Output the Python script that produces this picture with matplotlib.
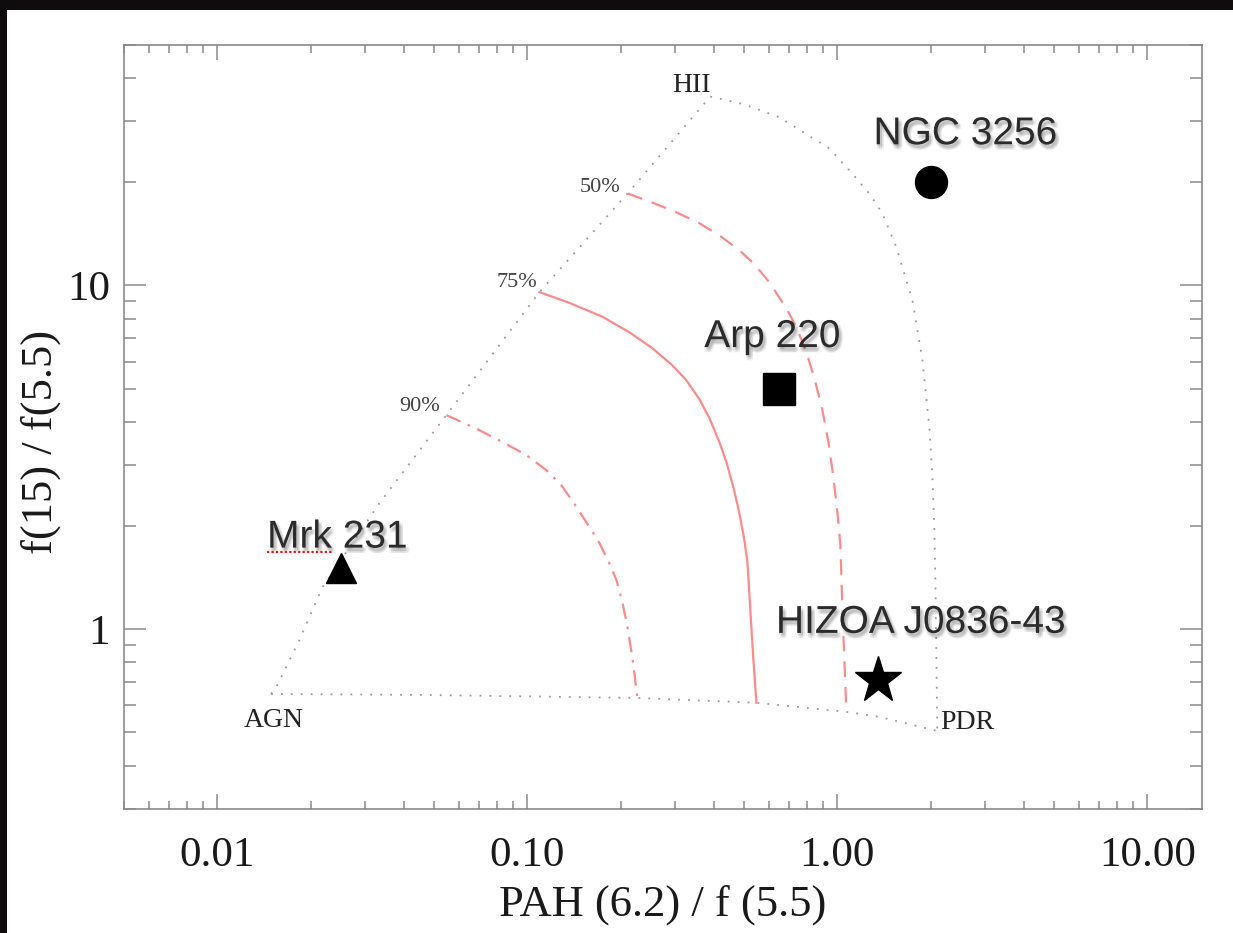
import matplotlib
matplotlib.use("Agg")
import matplotlib.pyplot as plt
import matplotlib.patheffects as pe
from matplotlib.patches import Rectangle
from matplotlib.lines import Line2D
from matplotlib.ticker import LogLocator, FixedLocator, FixedFormatter, NullFormatter

# galaxies
names = ["NGC 3256", "Arp 220", "Mrk 231", "HIZOA J0836-43"]
pah_ratio = [2.0, 0.65, 0.025, 1.35]
f15_ratio = [20.0, 5.0, 1.5, 0.71]

# corners of the diagnostic triangle
corner_names = ["AGN", "HII", "PDR"]
corner_x = [0.0149, 0.389, 2.10]
corner_y = [0.647, 35.4, 0.505]

# triangle edges
agn_hii_x = [0.0149, 0.0155, 0.0184, 0.0218, 0.0333, 0.0548, 0.1094, 0.2105, 0.389]
agn_hii_y = [0.647, 0.678, 0.929, 1.32, 2.32, 4.19, 9.55, 18.5, 35.4]
hii_pdr_x = [0.389, 0.501, 0.650, 0.942, 1.093, 1.267, 1.396, 1.549, 1.746, 1.880,
             1.98, 2.025, 2.055, 2.07, 2.085, 2.10]
hii_pdr_y = [35.4, 33.6, 30.8, 25.0, 21.6, 18.5, 16.2, 12.9, 9.05, 6.06,
             3.86, 2.77, 1.94, 1.39, 0.869, 0.505]
agn_pdr_x = [0.0149, 0.0449, 0.2264, 0.548, 1.069, 1.365, 2.10]
agn_pdr_y = [0.647, 0.643, 0.630, 0.610, 0.574, 0.555, 0.505]

# AGN fraction contours
c50_x = [0.2105, 0.2569, 0.3024, 0.3588, 0.4162, 0.4830, 0.5400, 0.6035, 0.6846, 0.7376,
         0.7943, 0.8428, 0.8946, 0.9354, 0.9708, 1.000, 1.0225, 1.038, 1.0534, 1.069]
c50_y = [18.5, 17.31, 16.30, 15.15, 13.97, 12.64, 11.51, 10.20, 8.57, 7.55,
         6.39, 5.37, 4.33, 3.50, 2.77, 2.19, 1.755, 1.136, 0.813, 0.574]
c75_x = [0.1094, 0.1366, 0.1745, 0.2133, 0.2530, 0.2935, 0.3258, 0.3588, 0.3865, 0.4162,
         0.4384, 0.4618, 0.4830, 0.5012, 0.5125, 0.5200, 0.528, 0.536, 0.548]
c75_y = [9.55, 8.89, 8.10, 7.30, 6.56, 5.85, 5.29, 4.66, 4.11, 3.50,
         3.06, 2.59, 2.17, 1.815, 1.566, 1.273, 1.01, 0.813, 0.610]
c90_x = [0.0548, 0.0683, 0.0830, 0.0990, 0.115, 0.1287, 0.1428, 0.1585, 0.1707, 0.184,
         0.1937, 0.2028, 0.2105, 0.2187, 0.2264]
c90_y = [4.19, 3.83, 3.50, 3.21, 2.90, 2.62, 2.29, 1.98, 1.78, 1.55,
         1.39, 1.19, 1.01, 0.813, 0.630]
pct_labels = ["50%", "75%", "90%"]

x_ticks = [0.01, 0.1, 1.0, 10.0]
x_ticklabels = ["0.01", "0.10", "1.00", "10.00"]
y_ticks = [1, 10]
y_ticklabels = ["1", "10"]

serif = "Liberation Serif"
sans = "Liberation Sans"
pink = "#ff8a8a"
dotgrey = "#9a9a9a"

fig = plt.figure(figsize=(12.33, 9.33), dpi=100)
fig.patch.set_facecolor("#0e0c0c")
fig.add_artist(Rectangle((7 / 1233, 0), 1 - 7 / 1233, 1 - 10 / 933,
                         transform=fig.transFigure, facecolor="white",
                         edgecolor="none", zorder=0))

ax = fig.add_axes([124 / 1233, 1 - 808.7 / 933, 1078 / 1233, 763.7 / 933])
ax.set_facecolor("white")
ax.set_xscale("log")
ax.set_yscale("log")
ax.set_xlim(0.005, 15)
ax.set_ylim(0.3, 50)

# triangle
dots = (0, (1, 4.5))
for xs, ys in [(agn_hii_x, agn_hii_y), (hii_pdr_x, hii_pdr_y), (agn_pdr_x, agn_pdr_y)]:
    ax.plot(xs, ys, color=dotgrey, lw=1.3, linestyle=dots, zorder=2)

ax.plot(c50_x, c50_y, color=pink, lw=1.6, linestyle=(0, (7, 4.5)), zorder=3)
ax.plot(c75_x, c75_y, color=pink, lw=1.6, linestyle="-", zorder=3)
ax.plot(c90_x, c90_y, color=pink, lw=1.6, linestyle=(0, (7, 3.5, 1.2, 3.5)), zorder=3)

# small labels on the triangle
corner_pos = {"AGN": (0.0152, 0.543), "HII": (0.338, 38.1), "PDR": (2.63, 0.533)}
for name in corner_names:
    px, py = corner_pos[name]
    ax.text(px, py, name, family=serif, fontsize=20, color="#222222",
            ha="center", va="center", zorder=4)

pct_pos = [(0.172, 19.3), (0.0922, 10.2), (0.0449, 4.45)]
for lab, (px, py) in zip(pct_labels, pct_pos):
    ax.text(px, py, lab, family=serif, fontsize=16, color="#444444",
            ha="center", va="center", zorder=4)

# galaxies
markers = ["o", "s", "^", "*"]
msizes = [23, 23, 22, 35]
for x, y, m, s in zip(pah_ratio, f15_ratio, markers, msizes):
    ax.plot(x, y, marker=m, markersize=s, color="black", linestyle="none", zorder=5)

shadow = [pe.SimplePatchShadow(offset=(1.5 + dx, -2.5 + dy), shadow_rgbFace="black", alpha=0.045)
          for dx in (-1.2, 0, 1.2) for dy in (-1.2, 0, 1.2)] + [pe.Normal()]
offsets = [(25, 27, "center"), (-5, 30, "center"), (-53, 15, "left"), (31, 34, "center")]
label_kw = dict(family=sans, fontsize=28, color="#2b2b2b", va="baseline",
                textcoords="offset points", zorder=6)
for name, x, y, (dx, dy, ha) in zip(names, pah_ratio, f15_ratio, offsets):
    t = ax.annotate(name, (x, y), xytext=(dx, dy), ha=ha, **label_kw)
    t.set_path_effects(shadow)

# axes styling
for sp in ax.spines.values():
    sp.set_color("#8a8a8a")
    sp.set_linewidth(1.2)

ax.xaxis.set_major_locator(FixedLocator(x_ticks))
ax.xaxis.set_major_formatter(FixedFormatter(x_ticklabels))
ax.xaxis.set_minor_locator(LogLocator(base=10, subs=range(2, 10)))
ax.xaxis.set_minor_formatter(NullFormatter())
ax.yaxis.set_major_locator(FixedLocator(y_ticks))
ax.yaxis.set_major_formatter(FixedFormatter(y_ticklabels))
ax.yaxis.set_minor_locator(LogLocator(base=10, subs=range(2, 10)))
ax.yaxis.set_minor_formatter(NullFormatter())

ax.tick_params(which="both", direction="in", top=True, right=True, color="#8a8a8a", width=1.1)
ax.tick_params(axis="x", which="major", length=11, pad=20)
ax.tick_params(axis="x", which="minor", length=5.5)
ax.tick_params(axis="y", which="major", length=16, pad=10)
ax.tick_params(axis="y", which="minor", length=8.5)
for lab in ax.get_xticklabels() + ax.get_yticklabels():
    lab.set_family(serif)
    lab.set_fontsize(31)
    lab.set_color("#1a1a1a")

ax.set_xlabel("PAH (6.2) / f (5.5)", family=serif, fontsize=32, color="#1a1a1a")
ax.set_ylabel("f(15) / f(5.5)", family=serif, fontsize=32, color="#1a1a1a")
ax.xaxis.set_label_coords(0.5, -0.099)
ax.yaxis.set_label_coords(-0.058, 0.48)

# red dotted spell-check underline beneath "Mrk"
fig.canvas.draw()
renderer = fig.canvas.get_renderer()
i = names.index("Mrk 231")
dx, dy, ha = offsets[i]
probe = ax.annotate("Mrk", (pah_ratio[i], f15_ratio[i]), xytext=(dx, dy), ha=ha, **label_kw)
bb = probe.get_window_extent(renderer)
probe.remove()
base = ax.transData.transform((pah_ratio[i], f15_ratio[i]))[1] + dy * fig.dpi / 72
W, H = fig.get_size_inches() * fig.dpi
yl = (base - 4) / H
fig.add_artist(Line2D([bb.x0 / W, bb.x1 / W], [yl, yl], transform=fig.transFigure,
                      color="#e8141c", lw=1.6, linestyle=(0, (1, 1)), zorder=7))

fig.savefig("out.png", dpi=100, facecolor=fig.get_facecolor())
plt.close(fig)
